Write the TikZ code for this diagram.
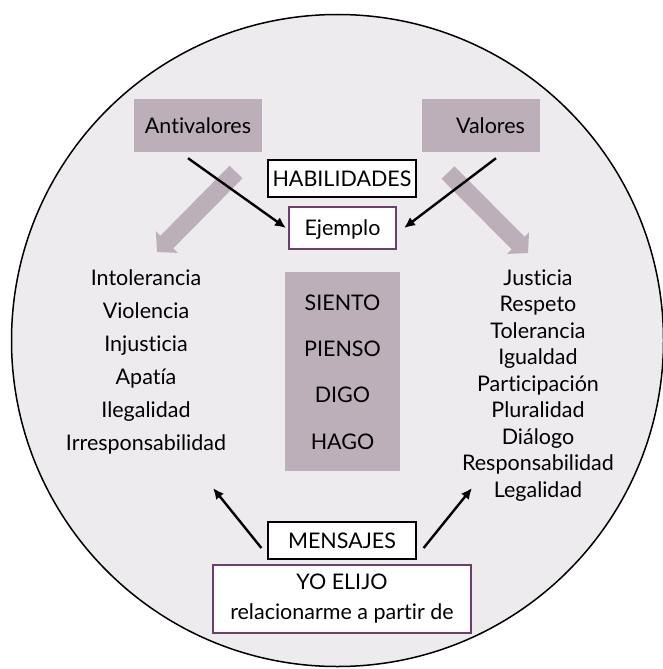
\documentclass[tikz,border=0pt]{standalone}
\usepackage{fontspec}
\setmainfont{Lato}[Ligatures={NoCommon,NoRare,NoDiscretionary}]
\usetikzlibrary{arrows.meta}
\definecolor{fondo}{RGB}{237,235,238}
\definecolor{malva}{RGB}{188,175,185}
\definecolor{morado}{RGB}{108,62,108}
\begin{document}
\begin{tikzpicture}[x=1pt, y=-1pt,
    font=\fontsize{21.5}{24}\selectfont,
    caja/.style={inner sep=0pt, text height=15pt, text depth=0pt},
    valor/.style={caja, fill=malva, minimum height=53pt},
    marco/.style={caja, draw, fill=white, line width=1.2pt},
    flecha/.style={line width=2.4pt, -{Latex[length=11pt,width=10pt]}},
    flechagris/.style={malva, line width=18pt, -{Triangle[length=14pt,width=30pt]}}]
  \useasboundingbox (0,0) rectangle (663,669);
  \draw[fill=fondo, line width=1.5pt] (337.5,340.5) circle (326pt);

  \node[valor, minimum width=128pt] (anti) at (198,125.5) {Antivalores};
  \node[valor, minimum width=118pt, text width=88pt, align=right] (valores) at (481,125.5) {Valores};
  \node[marco, minimum width=148pt, minimum height=37pt] (habilidades) at (342,178.5) {HABILIDADES};
  \node[marco, draw=morado, line width=2pt, minimum width=107pt, minimum height=42pt] (ejemplo) at (342.5,228) {Ejemplo};

  \node[fill=malva, minimum width=115pt, minimum height=199pt] (accion) at (342.5,371.5) {};
  \foreach \verbo [count=\i] in {SIENTO,PIENSO,DIGO,HAGO}
    \node[anchor=base] (verbo\i) at (342.5,263.6+46.4*\i) {\verbo};

  \foreach \palabra [count=\i] in {Intolerancia,Violencia,Injusticia,Apatía,Ilegalidad,Irresponsabilidad}
    \node[anchor=base] (antivalor\i) at (146,252+33*\i) {\palabra};
  \foreach \palabra [count=\i] in {Justicia,Respeto,Tolerancia,Igualdad,Participación,Pluralidad,Diálogo,Responsabilidad,Legalidad}
    \node[anchor=base] (valor\i) at (538,258.5+26.5*\i) {\palabra};

  \node[marco, minimum width=148pt, minimum height=37pt] (mensajes) at (342,540.5) {MENSAJES};
  \node[draw=morado, line width=2pt, fill=white, minimum width=258pt, minimum height=68pt,
    align=center, font=\fontsize{21.5}{30}\selectfont] (elijo) at (342,599) {YO ELIJO\\relacionarme a partir de};

  \coordinate (antigris) at (236,172);
  \coordinate (antipunta) at (157,252);
  \coordinate (valgris) at (448,172.5);
  \coordinate (valpunta) at (528,253);
  \coordinate (antifin) at (213,488);
  \coordinate (valfin) at (472,488);

  \draw[flechagris] (antigris) -- (antipunta);
  \draw[flechagris] (valgris) -- (valpunta);
  \draw[flecha] ([shift={(-10,6)}]anti.south) -- ([xshift=-2pt]ejemplo.west);
  \draw[flecha] ([shift={(15,6)}]valores.south) -- ([xshift=7pt]ejemplo.east);
  \draw[flecha] ([shift={(-6,7.5)}]mensajes.west) -- (antifin);
  \draw[flecha] ([shift={(7,7.5)}]mensajes.east) -- (valfin);
\end{tikzpicture}
\end{document}
